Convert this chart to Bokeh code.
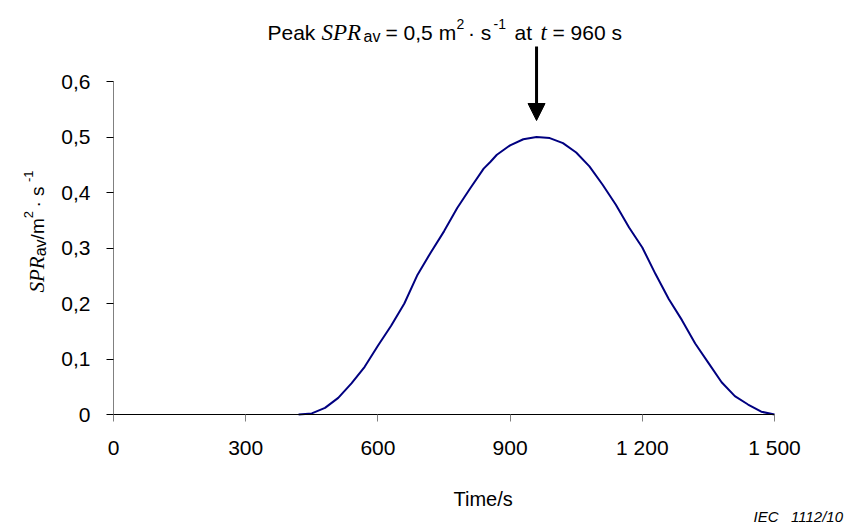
import math
from bokeh.plotting import figure
from bokeh.models import Range1d, FixedTicker, Label, Arrow, NormalHead
from bokeh.embed import file_html
from bokeh.resources import INLINE

# ---- data ----
time_s = [420, 450, 480, 510, 540, 570, 600, 630, 660, 690, 720, 750, 780, 810,
          840, 855, 870, 900, 930, 960, 990, 1020, 1050, 1080, 1110, 1140, 1170,
          1200, 1230, 1260, 1290, 1320, 1350, 1380, 1410, 1440, 1470, 1500]
spr_av = [0.000, 0.002, 0.012, 0.030, 0.056, 0.086, 0.124, 0.160, 0.200, 0.252,
          0.292, 0.330, 0.372, 0.408, 0.443, 0.455, 0.468, 0.485, 0.496, 0.500,
          0.498, 0.489, 0.472, 0.447, 0.414, 0.378, 0.337, 0.301, 0.253, 0.208,
          0.170, 0.128, 0.093, 0.058, 0.033, 0.018, 0.005, 0.000]

x_ticks = [0, 300, 600, 900, 1200, 1500]
x_tick_labels = ["0", "300", "600", "900", "1 200", "1 500"]
y_ticks = [0, 0.1, 0.2, 0.3, 0.4, 0.5, 0.6]
y_tick_labels = ["0", "0,1", "0,2", "0,3", "0,4", "0,5", "0,6"]

peak_time = 960
peak_value = 0.5

# ---- layout (canvas pixels) ----
W, H = 854, 527
AX_LEFT_PX, AX_RIGHT_PX = 113, 774     # where x = 0 and x = 1500 fall
AX_BOTTOM_PX, AX_TOP_PX = 414, 81      # where y = 0 and y = 0.6 fall
X0, X1 = x_ticks[0], x_ticks[-1]
Y0, Y1 = y_ticks[0], y_ticks[-1]
XPP = (X1 - X0) / (AX_RIGHT_PX - AX_LEFT_PX)
YPP = (Y1 - Y0) / (AX_BOTTOM_PX - AX_TOP_PX)
XMIN = X0 - AX_LEFT_PX * XPP
XMAX = XMIN + W * XPP
YMAX = Y0 + AX_BOTTOM_PX * YPP
YMIN = YMAX - H * YPP

SANS = "Liberation Sans"
SERIF = "Liberation Serif"
NB = "\u00a0"

p = figure(width=W, height=H, output_backend="svg", toolbar_location=None,
           x_range=Range1d(XMIN, XMAX), y_range=Range1d(YMIN, YMAX),
           min_border=0, min_border_left=0, min_border_right=0,
           min_border_top=0, min_border_bottom=0)
p.xgrid.visible = False
p.ygrid.visible = False
p.outline_line_color = None
p.background_fill_color = "white"
p.border_fill_color = "white"

p.line(time_s, spr_av, line_color="#000080", line_width=2)

# axes (placed at the data origin, limited to the data extent)
p.xaxis.fixed_location = Y0
p.xaxis.bounds = (X0, X1)
p.yaxis.fixed_location = X0
p.yaxis.bounds = (Y0, Y1)
p.xaxis.ticker = FixedTicker(ticks=x_ticks)
p.xaxis.major_label_overrides = {t: l for t, l in zip(x_ticks, x_tick_labels)}
p.yaxis.ticker = FixedTicker(ticks=y_ticks)
p.yaxis.major_label_overrides = {t: l for t, l in zip(y_ticks, y_tick_labels)}
for ax in (p.xaxis, p.yaxis):
    ax.major_tick_in = 0
    ax.major_tick_out = 7
    ax.minor_tick_line_color = None
    ax.major_label_text_font = SANS
    ax.major_label_text_font_size = "21px"
    ax.major_label_text_color = "black"
p.xaxis.axis_line_color = "black"
p.xaxis.major_tick_line_color = "#808080"
p.xaxis.major_label_standoff = 14
p.yaxis.axis_line_color = "#808080"
p.yaxis.major_tick_line_color = "black"
p.yaxis.major_label_standoff = 16


# helpers: canvas pixel -> data coordinates (for annotation placement)
def dx(px):
    return XMIN + px * XPP


def dy(py):
    return YMAX - py * YPP


def piece(text, px, py, font=SANS, size=21, style="normal", angle=0.0):
    p.add_layout(Label(x=dx(px), y=dy(py), text=text, text_font=font,
                       text_font_size=f"{size}px", text_font_style=style,
                       text_color="black", text_align="left",
                       text_baseline="alphabetic", angle=angle))


# title (composed of pieces)
BL = 32.3
piece("Peak", 267, BL)
piece("SPR", 321, BL, SERIF, 23, "italic")
piece("av", 363, BL + 3.2, SANS, 16)
piece("= 0,5 m", 385, BL)
piece("2", 456, BL - 9, SANS, 14)
piece("\u00b7 s", 467.5, BL)
piece("-1", 493, BL - 9, SANS, 14)
piece("at", 514, BL)
piece("t", 540, BL, SERIF, 23, "italic")
piece("= " + str(peak_time) + " s", 552, BL)

# arrow pointing at the peak
p.add_layout(Arrow(x_start=peak_time, y_start=dy(46), x_end=peak_time, y_end=dy(120),
                   line_color="black", line_width=3,
                   end=NormalHead(size=17, fill_color="black", line_color="black")))

# y axis label (rotated pieces)
A = math.pi / 2
XB = 36.5
piece("SPR", XB, 292, SERIF, 21, "italic", A)
piece("av", XB + 3, 255.8, SANS, 16, "normal", A)
piece("/m", XB, 238.9, SANS, 19, "normal", A)
piece("2", XB - 9, 217.8, SANS, 13, "normal", A)
piece("\u00b7 s", XB, 207.0, SANS, 19, "normal", A)
piece("-1", XB - 9, 181.5, SANS, 13, "normal", A)

# x axis label
piece("Time/s", 453, 498, SANS, 20)

# figure reference
piece("IEC" + NB * 3 + "1112/10", 753, 516, SANS, 15, "italic")

open("out.html", "w").write(file_html(p, INLINE))
